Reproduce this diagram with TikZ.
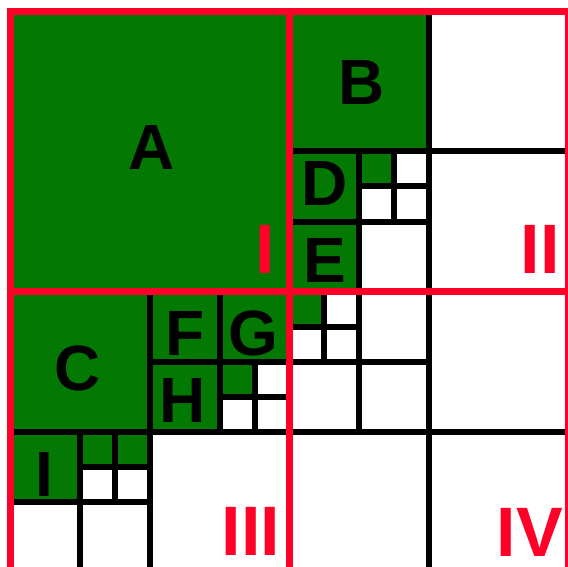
\documentclass[tikz,border=0pt]{standalone}
\usepackage{fontspec}
\setmainfont{Liberation Sans}
\definecolor{qgreen}{RGB}{3,120,3}
\definecolor{qred}{RGB}{255,0,40}
\begin{document}
\begin{tikzpicture}[x=1pt,y=-1pt,
  cell/.style={draw=black,line width=6pt},
  gcell/.style={cell,fill=qgreen},
  wcell/.style={cell,fill=white},
  redline/.style={draw=qred,line width=7pt},
  lbl/.style={font=\bfseries\fontsize{64}{64}\selectfont,text=black,inner sep=0pt,anchor=base},
  rlbl/.style={font=\bfseries\fontsize{70}{70}\selectfont,text=qred,inner sep=0pt,anchor=base}]
\useasboundingbox (0,0) rectangle (568,567);
\clip (0,0) rectangle (568,567);
\fill[white] (0,0) rectangle (568,567);
\begin{scope}[shift={(10.5pt,-11.5pt)},x=34.875pt,y=-35pt]
  \foreach \cx/\cy/\s in {0/0/8, 8/0/4, 8/4/2, 10/4/1, 8/6/2, 0/8/4, 4/8/2, 6/8/2, 4/10/2, 6/10/1, 0/12/2, 2/12/1, 3/12/1, 8/8/1}
    \draw[gcell] (\cx,\cy) rectangle ++(\s,\s);
  \foreach \cx/\cy/\s in {12/0/4, 11/4/1, 10/5/1, 11/5/1, 10/6/2, 12/4/4, 7/10/1, 6/11/1, 7/11/1, 2/13/1, 3/13/1, 0/14/2, 2/14/2, 4/12/4, 9/8/1, 8/9/1, 9/9/1, 10/8/2, 8/10/2, 10/10/2, 12/8/4, 8/12/4, 12/12/4}
    \draw[wcell] (\cx,\cy) rectangle ++(\s,\s);
  \draw[redline] (0,0) rectangle (16,16);
  \draw[redline] (8,0) -- (8,16);
  \draw[redline] (0,8) -- (16,8);
\end{scope}
\node[lbl] (lA) at (152,170) {A};
\node[lbl] (lB) at (362,105) {B};
\node[lbl] (lD) at (325,206) {D};
\node[lbl] (lE) at (325,282) {E};
\node[lbl] (lC) at (78,390) {C};
\node[lbl] (lF) at (185,355) {F};
\node[lbl] (lG) at (253,355) {G};
\node[lbl] (lH) at (183,422) {H};
\node[lbl] (lI) at (44,496) {I};
\node[rlbl] (q1) at (265,273) {I};
\node[rlbl] (q2) at (540,273) {II};
\node[rlbl] (q3) at (251,555) {III};
\node[rlbl] (q4) at (530,556) {IV};
\end{tikzpicture}
\end{document}
